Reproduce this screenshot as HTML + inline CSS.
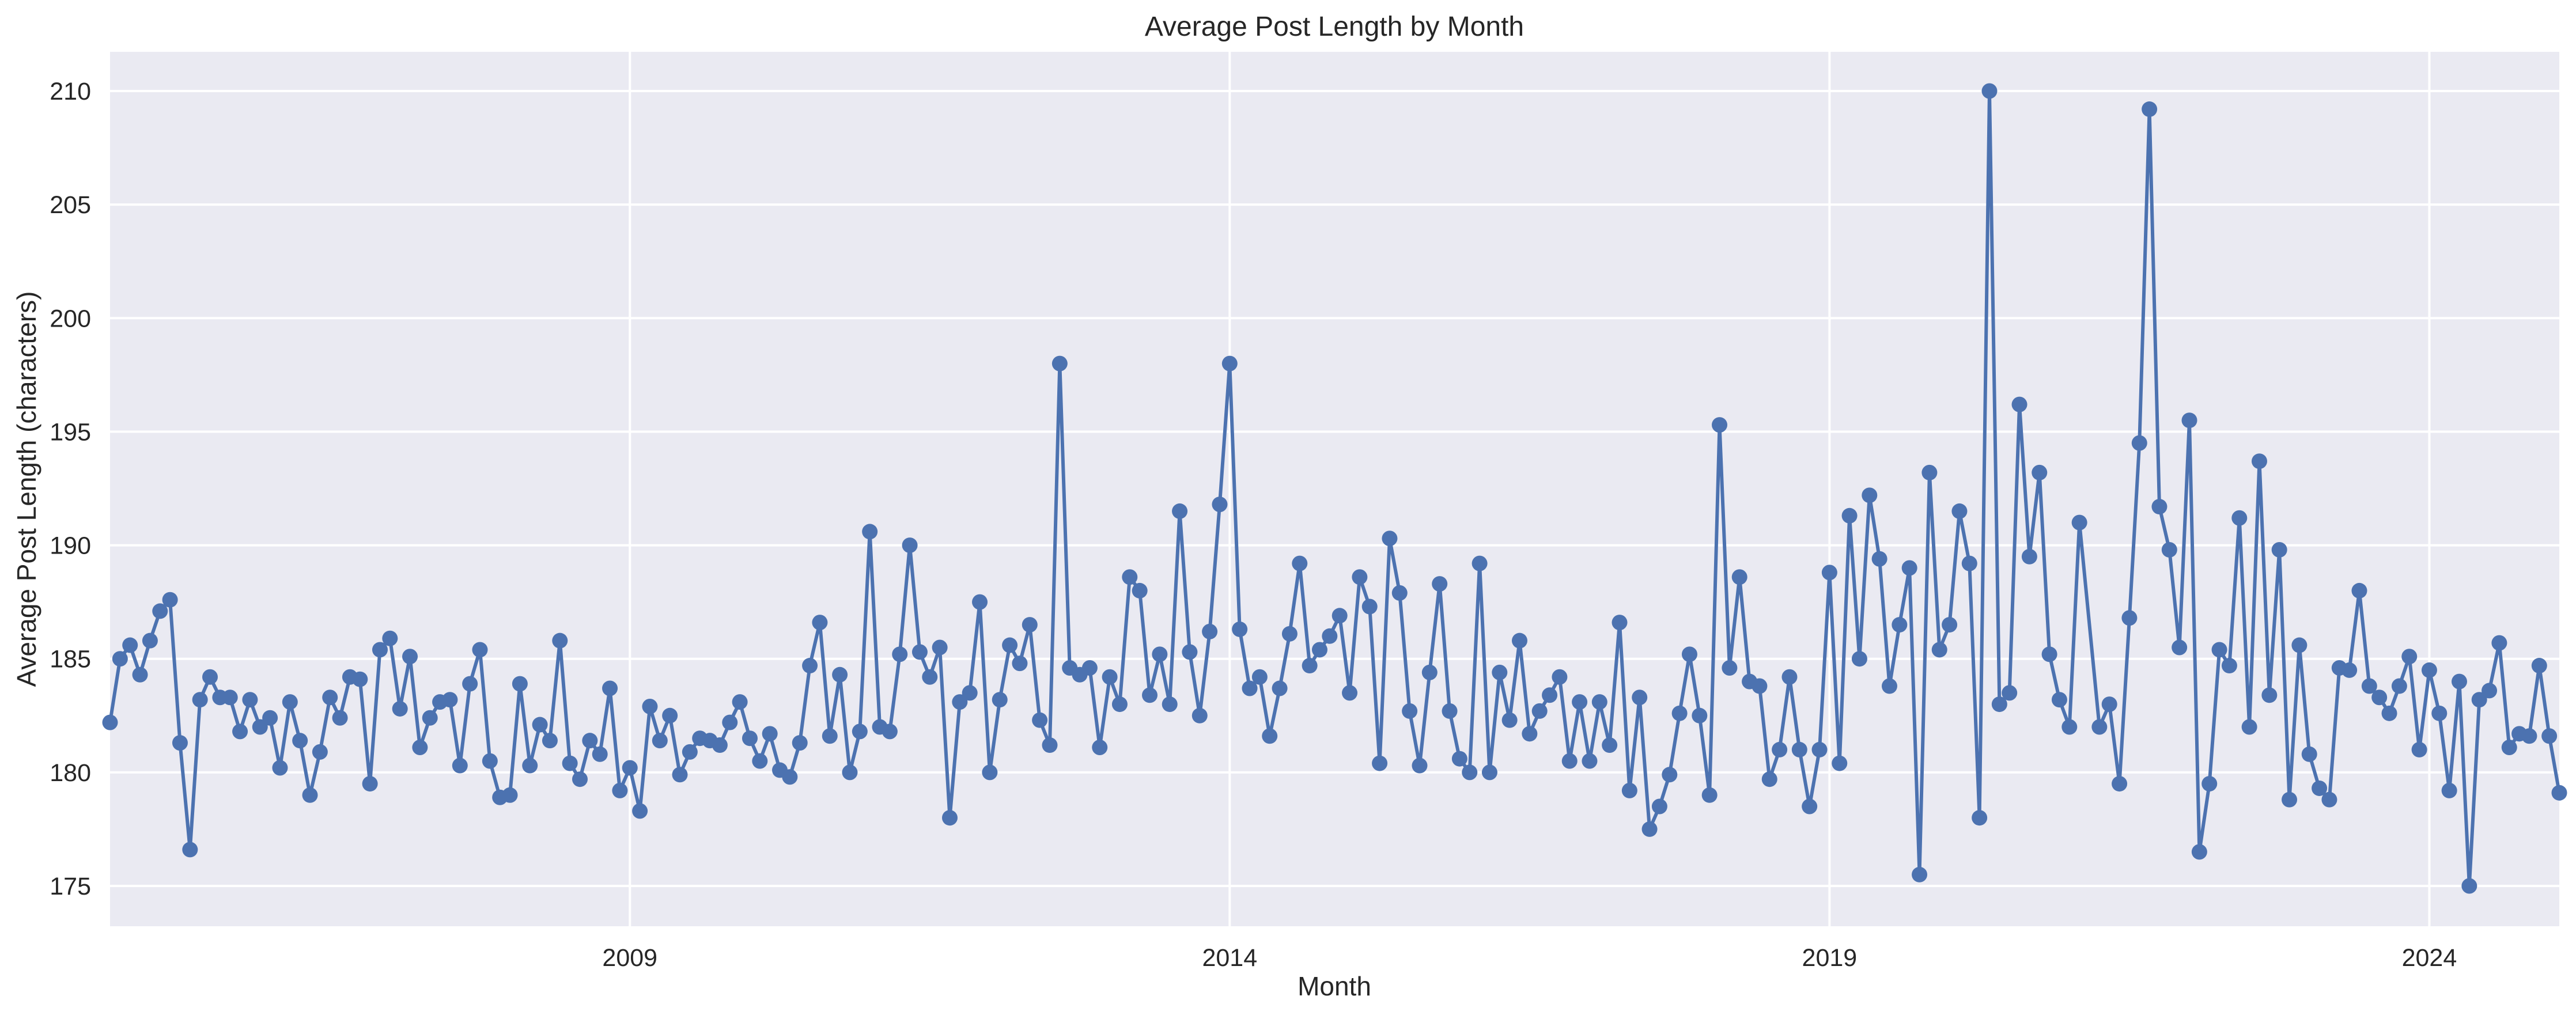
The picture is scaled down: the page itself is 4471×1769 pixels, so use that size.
<!DOCTYPE html>
<html>
<head>
<meta charset="utf-8">
<style>
  html, body { margin: 0; padding: 0; background: #ffffff; }
  svg { display: block; }
  text { font-family: "Liberation Sans", "DejaVu Sans", sans-serif; fill: #262626; }
</style>
</head>
<body>
<svg id="chart" width="4471" height="1769" viewBox="0 0 4471 1769" xmlns="http://www.w3.org/2000/svg">
  <rect x="0" y="0" width="4471" height="1769" fill="#ffffff"></rect>
  <rect x="191" y="90" width="4251" height="1518" fill="#eaeaf2"></rect>
  <g id="grid"></g>
  <g id="yticks"></g>
  <g id="xticks"></g>
  <g id="series"></g>
  <text x="2316" y="62" font-size="48" text-anchor="middle">Average Post Length by Month</text>
  <text x="2316" y="1728" font-size="46" text-anchor="middle">Month</text>
  <text x="0" y="0" font-size="46" text-anchor="middle" transform="translate(62,849) rotate(-90)">Average Post Length (characters)</text>
</svg>
<script>
// ---- data ----
const startYear = 2004;
const startMonth = 9; // September
const missingMonthAfterIndex = 197; // one month absent from the series
const values = [
182.2,185.0,185.6,184.3,185.8,187.1,187.6,181.3,176.6,183.2,
184.2,183.3,183.3,181.8,183.2,182.0,182.4,180.2,183.1,181.4,
179.0,180.9,183.3,182.4,184.2,184.1,179.5,185.4,185.9,182.8,
185.1,181.1,182.4,183.1,183.2,180.3,183.9,185.4,180.5,178.9,
179.0,183.9,180.3,182.1,181.4,185.8,180.4,179.7,181.4,180.8,
183.7,179.2,180.2,178.3,182.9,181.4,182.5,179.9,180.9,181.5,
181.4,181.2,182.2,183.1,181.5,180.5,181.7,180.1,179.8,181.3,
184.7,186.6,181.6,184.3,180.0,181.8,190.6,182.0,181.8,185.2,
190.0,185.3,184.2,185.5,178.0,183.1,183.5,187.5,180.0,183.2,
185.6,184.8,186.5,182.3,181.2,198.0,184.6,184.3,184.6,181.1,
184.2,183.0,188.6,188.0,183.4,185.2,183.0,191.5,185.3,182.5,
186.2,191.8,198.0,186.3,183.7,184.2,181.6,183.7,186.1,189.2,
184.7,185.4,186.0,186.9,183.5,188.6,187.3,180.4,190.3,187.9,
182.7,180.3,184.4,188.3,182.7,180.6,180.0,189.2,180.0,184.4,
182.3,185.8,181.7,182.7,183.4,184.2,180.5,183.1,180.5,183.1,
181.2,186.6,179.2,183.3,177.5,178.5,179.9,182.6,185.2,182.5,
179.0,195.3,184.6,188.6,184.0,183.8,179.7,181.0,184.2,181.0,
178.5,181.0,188.8,180.4,191.3,185.0,192.2,189.4,183.8,186.5,
189.0,175.5,193.2,185.4,186.5,191.5,189.2,178.0,210.0,183.0,
183.5,196.2,189.5,193.2,185.2,183.2,182.0,191.0,182.0,183.0,
179.5,186.8,194.5,209.2,191.7,189.8,185.5,195.5,176.5,179.5,
185.4,184.7,191.2,182.0,193.7,183.4,189.8,178.8,185.6,180.8,
179.3,178.8,184.6,184.5,188.0,183.8,183.3,182.6,183.8,185.1,
181.0,184.5,182.6,179.2,184.0,175.0,183.2,183.6,185.7,181.1,
181.7,181.6,184.7,181.6,179.1
];
const yTickValues = [175, 180, 185, 190, 195, 200, 205, 210];
const yTickLabels = ["175", "180", "185", "190", "195", "200", "205", "210"];
const xTickYears = [2009, 2014, 2019, 2024];
const xTickLabels = ["2009", "2014", "2019", "2024"];

// ---- scales ----
const plotLeft = 191, plotRight = 4442, plotTop = 90, plotBottom = 1608;
const monthSpan = 245;
function xScale(monthOffset) { return plotLeft + monthOffset * (plotRight - plotLeft) / monthSpan; }
function yScale(v) { return 1538 + (175 - v) * (1538 - 158) / 35; }
function offsetOf(year, month) { return (year - startYear) * 12 + (month - startMonth); }

const offsets = [];
for (let i = 0; i < values.length; i++) offsets.push(i > missingMonthAfterIndex ? i + 1 : i);

const NS = "http://www.w3.org/2000/svg";
const grid = document.getElementById("grid");
const yt = document.getElementById("yticks");
const xt = document.getElementById("xticks");
const series = document.getElementById("series");

yTickValues.forEach((v, i) => {
  const y = yScale(v);
  const ln = document.createElementNS(NS, "line");
  ln.setAttribute("x1", plotLeft); ln.setAttribute("x2", plotRight);
  ln.setAttribute("y1", y); ln.setAttribute("y2", y);
  ln.setAttribute("stroke", "#ffffff"); ln.setAttribute("stroke-width", "4");
  
  
  grid.appendChild(ln);
  const t = document.createElementNS(NS, "text");
  t.setAttribute("x", 158); t.setAttribute("y", y + 15);
  t.setAttribute("font-size", "43"); t.setAttribute("text-anchor", "end");
  t.textContent = yTickLabels[i];
  
  
  yt.appendChild(t);
});

xTickYears.forEach((yr, i) => {
  const x = xScale(offsetOf(yr, 1));
  const ln = document.createElementNS(NS, "line");
  ln.setAttribute("x1", x); ln.setAttribute("x2", x);
  ln.setAttribute("y1", plotTop); ln.setAttribute("y2", plotBottom);
  ln.setAttribute("stroke", "#ffffff"); ln.setAttribute("stroke-width", "4");
  
  
  grid.appendChild(ln);
  const t = document.createElementNS(NS, "text");
  t.setAttribute("x", x); t.setAttribute("y", 1677);
  t.setAttribute("font-size", "43"); t.setAttribute("text-anchor", "middle");
  t.textContent = xTickLabels[i];
  
  
  xt.appendChild(t);
});

let d = "";
values.forEach((v, i) => {
  d += (i === 0 ? "M" : "L") + xScale(offsets[i]).toFixed(2) + "," + yScale(v).toFixed(2);
});
const path = document.createElementNS(NS, "path");
path.setAttribute("d", d);
path.setAttribute("fill", "none");
path.setAttribute("stroke", "#4c72b0");
path.setAttribute("stroke-width", "6");
path.setAttribute("stroke-linejoin", "round");


series.appendChild(path);

values.forEach((v, i) => {
  const c = document.createElementNS(NS, "circle");
  c.setAttribute("cx", xScale(offsets[i]).toFixed(2));
  c.setAttribute("cy", yScale(v).toFixed(2));
  c.setAttribute("r", "13.5");
  c.setAttribute("fill", "#4c72b0");
  
  
  series.appendChild(c);
});
</script>
</body>
</html>
